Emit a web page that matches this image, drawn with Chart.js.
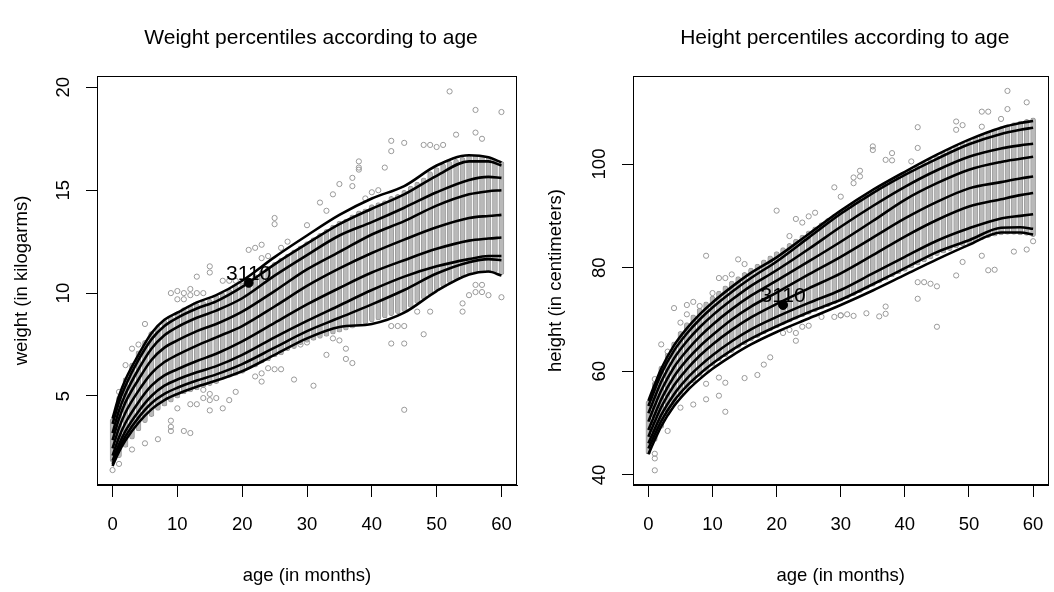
<!DOCTYPE html>
<html><head><meta charset="utf-8">
<script src="https://cdn.jsdelivr.net/npm/chart.js@4.4.1/dist/chart.umd.min.js"></script>
<style>
html,body{margin:0;padding:0;background:#fff;}
#wrap{position:relative;width:1054px;height:592px;overflow:hidden;}
canvas{position:absolute;top:0;}
</style></head><body>
<div id="wrap">
<canvas id="cw" width="527" height="592" style="left:0px"></canvas>
<canvas id="ch" width="527" height="592" style="left:527px"></canvas>
</div>
<script>
// ---------- tick labels ----------
const AGE_TICKS = [0, 10, 20, 30, 40, 50, 60];
const WEIGHT_TICKS = [5, 10, 15, 20];
const HEIGHT_TICKS = [40, 60, 80, 100];

// ---------- percentile curves (ages in months) ----------
const CURVE_AGES = [0, 1, 2, 4, 6, 8, 10, 13, 16, 20, 25, 30, 35, 40, 45, 50, 55, 58, 60];

const weightC1 = [3.9, 5.0, 5.8, 7.0, 8.05, 8.7, 9.05, 9.55, 9.9, 10.6, 11.75, 12.8, 13.8, 14.6, 15.2, 16.2, 16.7, 16.6, 16.35];
const weightC2 = [3.65, 4.7, 5.5, 6.75, 7.75, 8.4, 8.8, 9.25, 9.6, 10.3, 11.4, 12.4, 13.35, 14.1, 14.8, 15.7, 16.4, 16.4, 16.2];
const weightC3 = [3.2, 4.3, 5.1, 6.3, 7.3, 7.95, 8.35, 8.8, 9.15, 9.75, 10.85, 11.85, 12.8, 13.45, 14.15, 14.9, 15.5, 15.65, 15.6];
const weightC4 = [2.85, 3.9, 4.7, 5.8, 6.75, 7.35, 7.7, 8.15, 8.5, 9.1, 10.1, 11.15, 12.0, 12.85, 13.5, 14.25, 14.8, 14.95, 15.0];
const weightC5 = [2.45, 3.45, 4.2, 5.25, 6.1, 6.65, 7.0, 7.45, 7.85, 8.4, 9.35, 10.35, 11.2, 11.95, 12.6, 13.2, 13.65, 13.75, 13.8];
const weightC6 = [2.1, 3.0, 3.7, 4.7, 5.5, 6.0, 6.3, 6.7, 7.05, 7.65, 8.55, 9.45, 10.25, 11.0, 11.6, 12.15, 12.55, 12.65, 12.7];
const weightC7 = [1.85, 2.65, 3.3, 4.25, 5.0, 5.5, 5.8, 6.15, 6.45, 7.0, 7.85, 8.65, 9.4, 10.15, 10.8, 11.3, 11.65, 11.8, 11.8];
const weightC8 = [1.7, 2.45, 3.05, 3.95, 4.65, 5.1, 5.4, 5.75, 6.05, 6.55, 7.35, 8.15, 8.8, 9.45, 10.15, 10.95, 11.5, 11.65, 11.6];
const weightC9 = [1.6, 2.3, 2.85, 3.7, 4.35, 4.8, 5.1, 5.45, 5.75, 6.2, 7.0, 7.8, 8.35, 8.5, 9.05, 10.1, 10.9, 11.05, 10.85];

const heightC1 = [54.3, 57.5, 60.5, 65.0, 68.3, 71.0, 73.3, 76.3, 79.0, 82.0, 86.5, 91.0, 95.0, 98.5, 101.8, 104.7, 107.0, 107.9, 108.3];
const heightC2 = [53.3, 56.5, 59.5, 64.0, 67.3, 70.0, 72.3, 75.3, 78.0, 81.2, 85.8, 90.4, 94.4, 97.9, 101.0, 103.8, 105.8, 106.6, 107.0];
const heightC3 = [51.9, 55.0, 58.0, 62.5, 65.8, 68.5, 70.8, 73.8, 76.5, 79.5, 83.6, 87.9, 91.9, 95.6, 98.8, 101.4, 103.0, 103.6, 103.9];
const heightC4 = [50.3, 53.4, 56.3, 60.8, 64.0, 66.7, 69.0, 72.0, 74.6, 77.5, 81.2, 85.0, 89.0, 93.1, 96.3, 98.9, 100.4, 101.0, 101.4];
const heightC5 = [48.7, 51.7, 54.6, 59.0, 62.2, 64.8, 67.0, 70.0, 72.5, 75.2, 78.7, 82.1, 85.8, 89.5, 92.7, 95.3, 96.5, 97.2, 97.6];
const heightC6 = [47.4, 50.3, 53.1, 57.3, 60.4, 63.0, 65.2, 68.0, 70.4, 73.0, 76.0, 78.9, 82.4, 86.0, 89.2, 91.8, 93.2, 94.0, 94.4];
const heightC7 = [46.1, 48.9, 51.6, 55.6, 58.6, 61.0, 63.1, 65.8, 68.1, 70.5, 73.2, 75.7, 78.9, 82.1, 85.2, 87.6, 89.5, 90.0, 90.3];
const heightC8 = [45.1, 47.8, 50.4, 54.3, 57.2, 59.5, 61.5, 64.1, 66.3, 68.7, 71.4, 73.8, 76.8, 79.9, 83.0, 85.3, 87.7, 87.8, 87.5];
const heightC9 = [44.0, 46.8, 49.4, 53.3, 56.2, 58.5, 60.5, 63.0, 65.2, 67.6, 70.2, 72.8, 75.6, 78.6, 81.6, 84.4, 86.8, 86.8, 86.4];

// ---------- dense observation band per month (index = age 0..60) ----------
const weightBandLo = [1.8,2.0,2.5,2.9,3.3,3.7,4.0,4.3,4.5,4.7,4.9,5.1,5.2,5.3,5.4,5.5,5.6,5.8,5.9,6.0,6.1,6.3,6.4,6.6,6.7,6.9,7.0,7.2,7.3,7.5,7.6,7.7,7.8,7.9,8.0,8.1,8.2,8.3,8.4,8.5,8.6,8.7,8.8,8.9,9.0,9.1,9.3,9.5,9.7,9.9,10.1,10.3,10.5,10.6,10.8,10.9,11.0,11.0,11.0,11.0,10.9];
const weightBandHi = [3.9,5.0,5.9,6.6,7.2,7.7,8.1,8.4,8.7,8.9,9.1,9.3,9.4,9.5,9.6,9.7,9.9,10.0,10.2,10.4,10.5,10.7,10.9,11.1,11.3,11.5,11.7,11.9,12.1,12.3,12.5,12.7,12.9,13.1,13.3,13.5,13.6,13.8,14.0,14.1,14.3,14.4,14.5,14.7,14.8,15.0,15.2,15.4,15.6,15.9,16.1,16.3,16.4,16.5,16.6,16.7,16.7,16.7,16.6,16.5,16.4];
const heightBandLo = [44.0,46.5,49.0,51.5,53.5,55.0,56.5,57.8,59.0,60.0,61.0,62.0,62.8,63.6,64.4,65.1,65.8,66.5,67.2,67.8,68.4,69.0,69.5,70.0,70.5,71.0,71.5,72.0,72.5,73.0,73.5,74.0,74.6,75.2,75.8,76.4,77.0,77.6,78.2,78.8,79.3,79.9,80.5,81.1,81.7,82.3,82.8,83.3,83.8,84.2,84.6,85.0,85.4,85.8,86.1,86.3,86.4,86.4,86.3,86.2,86.0];
const heightBandHi = [54.3,58.0,61.0,63.5,65.7,67.7,69.4,70.9,72.2,73.4,74.5,75.5,76.5,77.4,78.3,79.1,79.9,80.7,81.5,82.3,83.1,83.9,84.7,85.5,86.3,87.1,87.9,88.7,89.5,90.3,91.0,91.8,92.6,93.3,94.0,94.7,95.4,96.1,96.8,97.5,98.2,98.9,99.6,100.3,100.9,101.6,102.3,102.9,103.5,104.1,104.7,105.3,105.8,106.3,106.8,107.2,107.6,108.0,108.3,108.6,108.9];

// ---------- isolated observations [age, value] ----------
const weightOutliers = [
  [0,1.4],[1,1.7],[1,5.2],[2,6.5],[3,7.3],[4,7.5],[5,8.5],[6,8.0],[3,2.4],[5,2.7],[7,2.9],
  [9,3.8],[9,3.5],[9,3.3],[11,3.3],[12,3.2],[10,4.4],[12,4.6],[13,4.6],[14,4.9],[15,4.3],[15,4.8],[16,4.9],[17,4.4],[18,4.8],[19,5.2],
  [14,5.3],[15,5.1],[9,10.0],[10,10.1],[11,10.0],[12,10.2],[13,10.0],[14,10.0],[10,9.7],[11,9.7],[12,9.9],
  [13,10.8],[15,11.3],[15,11.0],[17,10.6],[18,10.6],[19,10.6],[21,12.1],[22,12.2],[23,12.35],[23,11.7],[24,11.8],
  [25,13.65],[25,13.35],[26,12.2],[27,12.5],[30,13.3],[32,14.4],[33,14.0],[34,14.8],[35,15.3],[37,15.6],[37,15.2],
  [38,16.4],[38,16.1],[38,16.0],[42,16.1],[43,17.4],[43,16.9],[45,17.3],[48,17.2],[49,17.2],[50,17.1],[51,17.2],
  [52,19.8],[53,17.7],[56,17.8],[57,17.5],[56,18.9],[60,18.8],[39,14.6],[40,14.9],[41,15.0],
  [22,5.95],[23,6.1],[24,6.35],[25,6.3],[26,6.3],[23,5.7],[28,5.8],[31,5.5],[33,7.0],[34,7.8],[35,7.7],[36,7.3],
  [36,6.8],[37,6.6],[29,7.5],[30,7.6],[43,7.55],[45,7.55],[45,4.33],[48,8.0],[47,9.1],[49,9.1],[54,9.5],[54,9.1],
  [60,9.8],[58,9.9],[57,10.05],[56,10.05],[55,9.9],[57,10.4],[56,10.4],[43,8.4],[44,8.4],[45,8.4]
];
const heightOutliers = [
  [29,95.5],[30,93.7],[20,91.0],[23,89.4],[24,88.7],[25,89.9],[26,90.6],[22,86.1],[9,82.3],[14,81.6],
  [11,78.0],[12,78.0],[13,78.7],[15,80.7],[10,75.1],[4,72.2],[6,72.8],[7,73.4],[8,72.6],[6,71.0],[5,69.4],
  [2,65.2],[3,63.8],[1,58.5],[1,40.9],[1,44.1],[1,43.2],[3,48.5],[5,53.0],[7,53.6],[9,54.6],[11,55.3],[9,57.6],
  [12,52.2],[11,58.8],[12,57.8],[15,58.7],[17,59.3],[18,61.3],[19,62.7],[21,67.4],[22,68.0],[23,67.4],[23,65.9],
  [24,68.6],[25,68.8],[27,70.5],[29,70.5],[30,70.8],[56,114.1],[59,111.9],[56,110.6],[52,110.1],[53,110.1],
  [55,108.7],[48,108.2],[49,107.5],[48,106.6],[52,107.2],[42,107.1],[42,103.1],[35,103.4],[35,102.7],[38,102.1],
  [38,100.7],[32,97.4],[33,98.7],[32,96.3],[33,97.6],[37,100.8],[41,100.5],[45,68.6],[42,74.0],[48,78.5],
  [49,81.1],[52,82.3],[53,79.5],[54,79.6],[57,83.1],[59,83.5],[60,85.1],[42,77.2],[43,77.2],[44,76.9],[45,76.4],
  [36,70.6],[37,71.1],[37,72.5],[34,71.2],[32,70.7],[31,71.0],[30,70.8]
];

// ---------- highlighted child ----------
const highlightLabel = '3110';
const weightHighlight = [21, 10.5];
const heightHighlight = [21, 72.8];

// ---------- helpers ----------
const FONT = '"Liberation Sans", Arial, Helvetica, sans-serif';
const toXY = (xs, ys) => xs.map((x, i) => ({x, y: ys[i]}));
const bandData = (lo, hi) => lo.map((v, i) => ({x: i, y: [v, hi[i]]}));

const decor = {
  id: 'decor',
  afterDatasetsDraw(chart, args, o) {
    const {ctx, chartArea: ca, scales} = chart;
    ctx.save();
    ctx.fillStyle = '#000';
    // title, centred over the plot box
    ctx.font = '21px ' + FONT;
    ctx.textAlign = 'center';
    ctx.textBaseline = 'middle';
    ctx.fillText(o.title, (ca.left + ca.right) / 2 + 4, 38);
    // y tick labels, rotated like base-R
    ctx.font = '18.5px ' + FONT;
    for (const t of scales.y.ticks) {
      const py = scales.y.getPixelForValue(t.value);
      ctx.save();
      ctx.translate(ca.left - 33, py);
      ctx.rotate(-Math.PI / 2);
      ctx.fillText(String(t.value), 0, 0);
      ctx.restore();
    }
    // highlighted label
    const px = scales.x.getPixelForValue(o.point[0]);
    const py = scales.y.getPixelForValue(o.point[1]);
    ctx.font = '21px ' + FONT;
    ctx.textBaseline = 'alphabetic';
    ctx.fillText(o.text, px, py - 3);
    // box
    ctx.strokeStyle = '#000';
    ctx.lineWidth = 1;
    ctx.strokeRect(Math.round(ca.left) + 0.5, Math.round(ca.top) + 0.5,
                   Math.round(ca.right - ca.left) - 1, Math.round(ca.bottom - ca.top) - 1);
    ctx.restore();
  }
};

function makeChart(id, cfg) {
  const curveSets = cfg.curves.map(c => ({
    type: 'line', data: toXY(CURVE_AGES, c), borderColor: '#000', borderWidth: 2.6,
    pointRadius: 0, fill: false, cubicInterpolationMode: 'monotone', order: 2
  }));
  return new Chart(document.getElementById(id), {
    type: 'scatter',
    data: {
      datasets: [
        { type: 'bar', data: bandData(cfg.bandLo, cfg.bandHi), backgroundColor: '#b9b9b9',
          borderColor: '#9c9c9c', borderWidth: 1,
          barThickness: 5, borderSkipped: false, borderRadius: 2.5, grouped: false, order: 4 },
        { type: 'scatter', data: cfg.outliers.map(p => ({x: p[0], y: p[1]})), pointRadius: 2.6,
          pointBorderColor: '#999', pointBackgroundColor: 'rgba(0,0,0,0)', pointBorderWidth: 1, order: 3 },
        ...curveSets,
        { type: 'scatter', data: [{x: cfg.point[0], y: cfg.point[1]}], pointRadius: 4.5,
          pointBackgroundColor: '#000', pointBorderColor: '#000', pointBorderWidth: 1, order: 1 }
      ]
    },
    options: {
      responsive: false, animation: false, events: [], devicePixelRatio: 1,
      layout: { padding: { left: 0, right: cfg.padRight, top: 76, bottom: 0 } },
      plugins: {
        legend: { display: false }, tooltip: { enabled: false }, title: { display: false },
        decor: { text: highlightLabel, point: cfg.point, title: cfg.title }
      },
      scales: {
        x: {
          type: 'linear', min: -2.4, max: 62.4, offset: false,
          afterBuildTicks: s => { s.ticks = AGE_TICKS.map(v => ({value: v})); },
          afterFit: s => { s.height = 107; s.paddingLeft = 0; s.paddingRight = 0; },
          grid: { drawOnChartArea: false, drawTicks: true, tickLength: 12, color: '#000', tickColor: '#000', offset: false },
          border: { display: true, color: '#000', width: 1 },
          ticks: { color: '#000', font: { family: FONT, size: 18.5 }, padding: 17, maxRotation: 0, autoSkip: false },
          title: { display: true, text: 'age (in months)', color: '#000', font: { family: FONT, size: 18.5 }, padding: { bottom: 5 } }
        },
        y: {
          type: 'linear', min: cfg.yMin, max: cfg.yMax,
          afterBuildTicks: s => { s.ticks = cfg.yTicks.map(v => ({value: v})); },
          afterFit: s => { s.width = cfg.yWidth; s.paddingTop = 0; s.paddingBottom = 0; },
          grid: { drawOnChartArea: false, drawTicks: true, tickLength: 11, color: '#000', tickColor: '#000' },
          border: { display: true, color: '#000', width: 1 },
          ticks: { display: false },
          title: { display: true, text: cfg.yTitle, color: '#000', font: { family: FONT, size: 18.5 }, padding: { top: cfg.yTitlePad } }
        }
      }
    },
    plugins: [decor]
  });
}

makeChart('cw', {
  title: 'Weight percentiles according to age', yTitle: 'weight (in kilogarms)',
  yMin: 0.675, yMax: 20.55, yTicks: WEIGHT_TICKS, yWidth: 97, yTitlePad: 10.6, padRight: 10,
  curves: [weightC1, weightC2, weightC3, weightC4, weightC5, weightC6, weightC7, weightC8, weightC9],
  bandLo: weightBandLo, bandHi: weightBandHi, outliers: weightOutliers, point: weightHighlight
});
makeChart('ch', {
  title: 'Height percentiles according to age', yTitle: 'height (in centimeters)',
  yMin: 38.07, yMax: 116.98, yTicks: HEIGHT_TICKS, yWidth: 106, yTitlePad: 17.7, padRight: 1,
  curves: [heightC1, heightC2, heightC3, heightC4, heightC5, heightC6, heightC7, heightC8, heightC9],
  bandLo: heightBandLo, bandHi: heightBandHi, outliers: heightOutliers, point: heightHighlight
});
</script>
</body></html>
